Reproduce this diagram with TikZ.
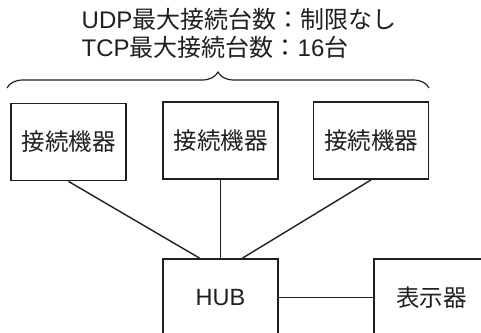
\documentclass[tikz,border=0pt]{standalone}
\usepackage{fontspec}
\setmainfont{Liberation Sans}
\newfontfamily\jp{Noto Sans CJK JP}
\usetikzlibrary{decorations.pathreplacing,positioning}

\begin{document}
\begin{tikzpicture}[x=1pt, y=-1pt, line width=1.4pt, color=black!88,
every node/.style = {font=\fontsize{23.5}{27}\selectfont}]
	\tikzstyle{dev} = [draw, line width=1.8pt, minimum width=115pt, minimum height=77pt, inner sep=0pt]
	\tikzstyle{title} = [align=left, inner sep=0pt, anchor=north west, font=\fontsize{24}{27.5}\selectfont]
	\useasboundingbox (0,0) rectangle (481,332);
	\clip (0,0) rectangle (481,332);
	\node[title] (caption) at (81,8) {UDP{\jp 最大接続台数：制限なし}\\TCP{\jp 最大接続台数：}16{\jp 台}};
	\coordinate (bl) at (7,88);
	\coordinate (br) at (429,88);
	\draw[line width=1.2pt, decorate, decoration={brace, amplitude=16pt}] (bl) -- (br);
	\node[dev] (dev1) at (68.5,142) {\jp 接続機器};
	\node[dev] (dev2) at (220.5,140.5) {\jp 接続機器};
	\node[dev] (dev3) at (371,140.5) {\jp 接続機器};
	\node[dev] (hub) at (220.5,297.5) {HUB};
	\node[dev, right=94pt of hub] (disp) {\jp 表示器};
	\draw (dev1.south) -- ([xshift=-21pt]hub.north);
	\draw (dev2.south) -- (hub.north);
	\draw (dev3.south) -- ([xshift=22pt]hub.north);
	\draw (hub) -- (disp);
\end{tikzpicture}
\end{document}
